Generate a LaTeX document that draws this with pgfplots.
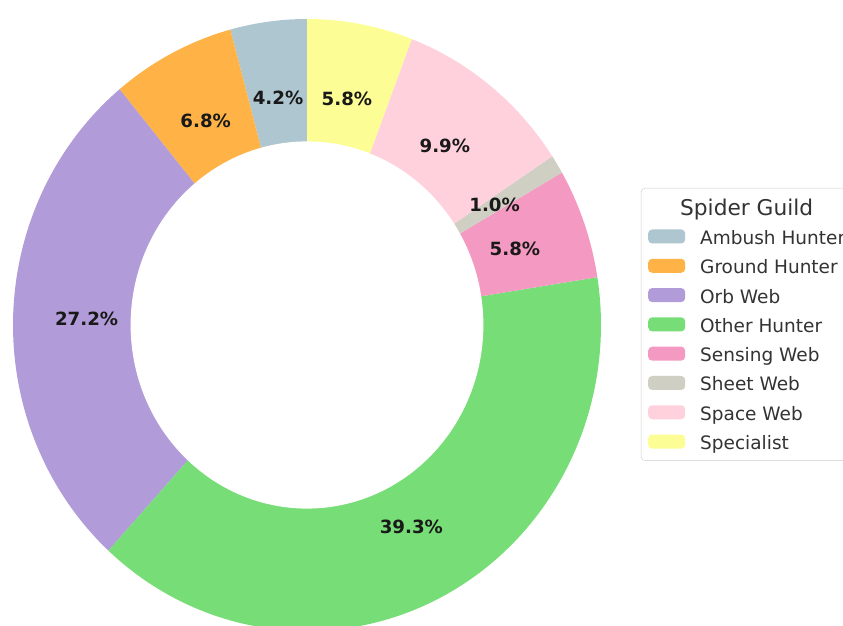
\documentclass[border=0pt]{standalone}
\usepackage{pgfplots}
\pgfplotsset{compat=1.18}
\usepackage{fontspec}
\setmainfont{DejaVu Sans}

\definecolor{cAmbush}{HTML}{AEC6CF}
\definecolor{cGround}{HTML}{FFB347}
\definecolor{cOrb}{HTML}{B19CD9}
\definecolor{cOther}{HTML}{77DD77}
\definecolor{cSensing}{HTML}{F49AC2}
\definecolor{cSheet}{HTML}{CFCFC4}
\definecolor{cSpace}{HTML}{FFD1DC}
\definecolor{cSpecialist}{HTML}{FDFD96}

\newcommand\pctfont{\bfseries\fontsize{18.2bp}{20bp}\selectfont}

% slice sectors: value (percent), colour, legend name
\newcommand\slicecum{0}
\newcommand\donutslice[3]{%
  \pgfmathsetmacro\slA{90+3.6*\slicecum}%
  \pgfmathsetmacro\slB{90+3.6*(\slicecum+#1)}%
  \edef\sltemp{\noexpand\addplot[fill=#2, draw=none, domain=\slA:\slB, samples=121] ({cos(x)},{sin(x)}) -- (axis cs:0,0) -- cycle;}%
  \sltemp
  \addlegendentry{#3}%
  \pgfmathparse{\slicecum+#1}\xdef\slicecum{\pgfmathresult}%
}
% percentage labels
\newcommand\labelcum{0}
\newcommand\donutlabel[1]{%
  \pgfmathsetmacro\slM{90+3.6*(\labelcum+#1/2)}%
  \pgfmathsetmacro\slX{0.75*cos(\slM)}%
  \pgfmathsetmacro\slY{0.75*sin(\slM)}%
  \edef\sltemp{\noexpand\node[font=\noexpand\pctfont, text=black!90, inner sep=0pt] at (axis cs:\slX,\slY) {#1\noexpand\%};}%
  \sltemp
  \pgfmathparse{\labelcum+#1}\xdef\labelcum{\pgfmathresult}%
}

\begin{document}
\begin{tikzpicture}
\begin{axis}[
  at={(0,0)}, anchor=center,
  scale only axis,
  width=588bp, height=612bp,
  xmin=-1, xmax=1, ymin=-1, ymax=1,
  hide axis, clip=false,
  legend cell align=left,
  legend image code/.code={\fill[#1] (0bp,-7bp) rectangle (37bp,7bp);},
  legend style={
    at={(axis description cs:1.068,0.7239)}, anchor=north west,
    draw=black!20, rounded corners=4bp, fill=white,
    font=\fontsize{18.5bp}{22bp}\selectfont, text=black!80,
    inner xsep=7bp, inner ysep=11bp,
    row sep=13.3bp, column sep=15bp,
    nodes={inner sep=0pt, text height=16bp, text depth=0bp},
  },
]
\addlegendimage{empty legend}
\addlegendentry{\hspace*{-20bp}\fontsize{21.7bp}{26bp}\selectfont Spider Guild}

\donutslice{4.2}{cAmbush}{Ambush Hunter}
\donutslice{6.8}{cGround}{Ground Hunter}
\donutslice{27.2}{cOrb}{Orb Web}
\donutslice{39.3}{cOther}{Other Hunter}
\donutslice{5.8}{cSensing}{Sensing Web}
\donutslice{1.0}{cSheet}{Sheet Web}
\donutslice{9.9}{cSpace}{Space Web}
\donutslice{5.8}{cSpecialist}{Specialist}

\addplot[fill=white, draw=none, domain=0:360, samples=240, forget plot] ({0.6*cos(x)},{0.6*sin(x)});

\donutlabel{4.2}
\donutlabel{6.8}
\donutlabel{27.2}
\donutlabel{39.3}
\donutlabel{5.8}
\donutlabel{1.0}
\donutlabel{9.9}
\donutlabel{5.8}
\end{axis}
\pgfresetboundingbox
\path[use as bounding box] (-307bp,-301bp) rectangle (536bp,325bp);
\end{tikzpicture}
\end{document}
